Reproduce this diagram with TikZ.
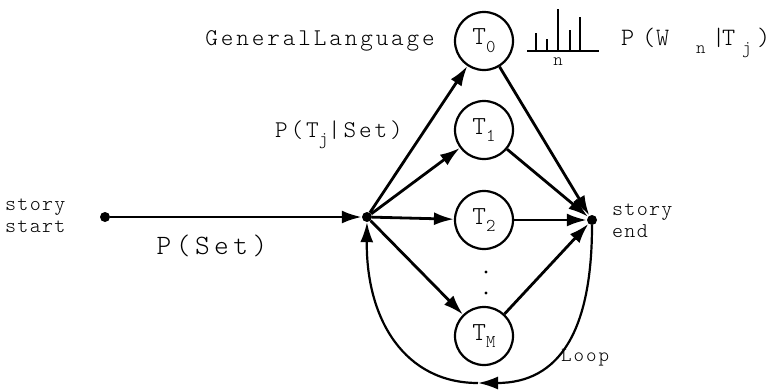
\documentclass[tikz,border=0pt]{standalone}
\usepackage{fontspec}
\usetikzlibrary{arrows.meta}
\newfontfamily\monoA[Extension=.otf,LetterSpace=12]{lmmonolt10-regular}
\newfontfamily\monoB[Extension=.otf,LetterSpace=16]{lmmonolt10-regular}
\newfontfamily\monoC[Extension=.otf,LetterSpace=6]{lmmonolt10-regular}
\newfontfamily\monoD[Extension=.otf,LetterSpace=10]{lmmonolt10-regular}
\newfontfamily\monoZ[Extension=.otf]{lmmonolt10-regular}
\newcommand{\subsc}[1]{\raisebox{-0.3em}{\monoZ\fontsize{18}{18}\selectfont #1}}
\newcommand{\bx}[2]{\makebox[#1pt][l]{#2}}
\begin{document}
\begin{tikzpicture}[x=1pt,y=-1pt,
  topic/.style={circle,draw,line width=2.2pt,minimum size=58pt,inner sep=0pt,font=\monoZ\fontsize{26}{26}\selectfont},
  dotnode/.style={circle,fill,inner sep=0pt,minimum size=10pt},
  edge/.style={line width=2.8pt,-{Latex[length=20pt,width=13pt]}},
  lbl/.style={font=\monoA\fontsize{24}{26}\selectfont,inner sep=0pt},
  small/.style={font=\monoC\fontsize{21}{22}\selectfont,inner sep=0pt,align=left}]
\useasboundingbox (0,0) rectangle (779,389);
\node[dotnode] (start) at (105,217) {};
\node[dotnode] (mid) at (367,217) {};
\node[dotnode] (end) at (592,220) {};
\node[topic] (T0) at (484,41) {T\subsc{0}};
\node[topic] (T1) at (484,130) {T\subsc{1}};
\node[topic] (T2) at (484,220) {T\subsc{2}};
\node[topic] (TM) at (484,336) {T\subsc{M}};
\fill (486,272) circle (1.7pt) (486,293) circle (1.7pt);
\draw[edge] (start) -- (mid);
\draw[edge] (mid) -- (T0);
\draw[edge] (mid) -- (T1);
\draw[edge] (mid) -- (T2);
\draw[edge] (mid) -- (TM);
\draw[edge] (T0) -- (end);
\draw[edge] (T1) -- (end);
\draw[edge] (T2) -- (end);
\draw[edge] (TM) -- (end);
\coordinate (lb) at (478,383);
\draw[edge,line width=2.2pt] (end) .. controls (592,330) and (560,383) .. (lb);
\draw[edge,line width=2.2pt] (lb) .. controls (405,383) and (366,320) .. (mid);
\node[small,anchor=west] (ss) at (5,216) {story\\start};
\node[small,anchor=west] (se) at (612,221) {story\\end};
\node[small,font=\monoD\fontsize{20}{20}\selectfont] (loop) at (585,358) {Loop};
\node[lbl,anchor=east] (gl) at (435,41) {GeneralLanguage};
\node[lbl] (ptj) at (339,135) {P(T\subsc{j}|Set)};
\node[lbl,font=\monoB\fontsize{28}{30}\selectfont] (pset) at (212,246) {P(Set)};
\node[lbl,font=\monoZ\fontsize{25}{26}\selectfont,anchor=west] (pw) at (621,43)
  {\bx{21}{P}\bx{14}{(}\bx{40}{W}\bx{16}{\subsc{n}}\bx{10}{|}\bx{20}{T}\bx{15}{\subsc{j}})};
\draw[line width=2.8pt] (527,51) -- (599,51);
\foreach \x/\t in {536/33,547/39,558/9,570/30,580/17} \draw[line width=2.6pt] (\x,51) -- (\x,\t);
\node[inner sep=0pt,font=\monoZ\fontsize{18}{18}\selectfont] (n) at (558,62) {n};
\end{tikzpicture}
\end{document}
